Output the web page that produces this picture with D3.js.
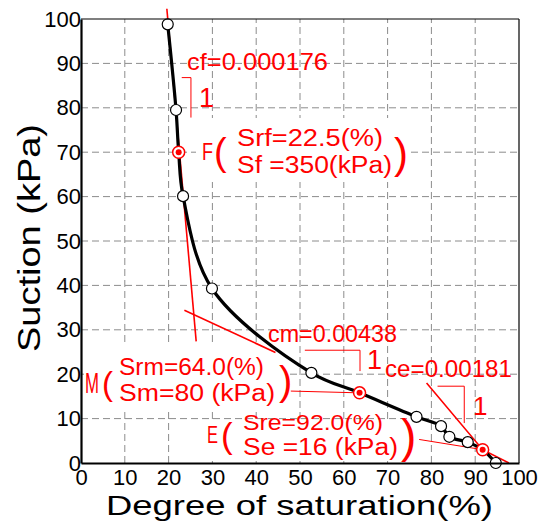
<!DOCTYPE html>
<html>
<head>
<meta charset="utf-8">
<script src="https://cdn.jsdelivr.net/npm/d3@7"></script>
<style>
body { margin: 0; background: #fff; }
svg { display: block; font-family: "Liberation Sans", Arial, sans-serif; }
</style>
</head>
<body>
<svg id="chart" width="547" height="524"></svg>
<script>
// measured points (degree of saturation %, suction kPa)
const saturation = [19.8, 21.7, 22.3, 23.3, 29.9, 52.6, 63.6, 76.6, 82.2, 84.1, 88.3, 91.7, 94.7];
const suction = [98.8, 79.5, 70.0, 60.1, 39.3, 20.3, 15.8, 10.4, 8.3, 5.9, 4.7, 3.0, 0.0];

// characteristic points F, M, E
const keyNames = ['F', 'M', 'E'];
const keySat = [22.3, 63.6, 91.7];
const keySuc = [70.0, 15.8, 3.0];

// tangent lines
const fTanSat = [19.6, 26.3];
const fTanSuc = [102.3, 27.4];
const mTanSat = [23.6, 44.4];
const mTanSuc = [34.4, 24.9];
const eTanSat = [78.9, 91.7, 97.7];
const eTanSuc = [18.0, 3.0, 0.0];

// slope triangles
const cfTriSat = [23.0, 25.1, 25.1];
const cfTriSuc = [86.8, 86.8, 77.8];
const cmTriSat = [51.1, 63.7, 63.7];
const cmTriSuc = [25.4, 25.4, 20.7];
const ceTriSat = [81.4, 87.5, 87.5];
const ceTriSuc = [17.3, 17.3, 9.0];

// leader lines from labels to points
const mLeadSat = [47.9, 63.6];
const mLeadSuc = [16.2, 15.8];
const eLeadSat = [77.2, 91.7];
const eLeadSuc = [5.3, 3.0];

const ticks = [0, 10, 20, 30, 40, 50, 60, 70, 80, 90, 100];
const gridTicks = [10, 20, 30, 40, 50, 60, 70, 80, 90];

const svg = d3.select('#chart');
const x = d3.scaleLinear().domain([0, 100]).range([81, 519]);
const y = d3.scaleLinear().domain([0, 100]).range([463, 19]);

// grid
svg.append('g').selectAll('line').data(gridTicks).join('line')
    .attr('x1', d => x(d)).attr('x2', d => x(d))
    .attr('y1', y(0)).attr('y2', y(100))
    .attr('stroke', '#8c8c8c').attr('stroke-dasharray', '7,4');
svg.append('g').selectAll('line').data(gridTicks).join('line')
    .attr('y1', d => y(d)).attr('y2', d => y(d))
    .attr('x1', x(0)).attr('x2', x(100))
    .attr('stroke', '#8c8c8c').attr('stroke-dasharray', '7,4');

// white label boxes
[[196, 118, 214, 64], [84, 345, 206, 67], [205, 421, 208, 40]].forEach(b => {
    svg.append('rect').attr('x', b[0]).attr('y', b[1])
        .attr('width', b[2]).attr('height', b[3]).attr('fill', '#fff');
});

function path(sats, sucs) {
    return d3.line().x(d => x(d[0])).y(d => y(d[1]))(d3.zip(sats, sucs));
}

// red tangent lines
[[fTanSat, fTanSuc], [mTanSat, mTanSuc], [eTanSat, eTanSuc]].forEach(p => {
    svg.append('path').attr('d', path(p[0], p[1]))
        .attr('fill', 'none').attr('stroke', 'red').attr('stroke-width', 1.6);
});
// triangles and leaders
[[cfTriSat, cfTriSuc], [cmTriSat, cmTriSuc], [ceTriSat, ceTriSuc],
 [mLeadSat, mLeadSuc], [eLeadSat, eLeadSuc]].forEach(p => {
    svg.append('path').attr('d', path(p[0], p[1]))
        .attr('fill', 'none').attr('stroke', 'red').attr('stroke-width', 1);
});

// black curve
svg.append('path')
    .attr('d', d3.line().x(d => x(d[0])).y(d => y(d[1]))
        .curve(d3.curveCatmullRom.alpha(0.5))(d3.zip(saturation, suction)))
    .attr('fill', 'none').attr('stroke', '#000').attr('stroke-width', 3.2);

// open points
const openPts = d3.zip(saturation, suction).filter(d => !keySat.includes(d[0]));
svg.append('g').selectAll('circle').data(openPts).join('circle')
    .attr('cx', d => x(d[0])).attr('cy', d => y(d[1])).attr('r', 5.5)
    .attr('fill', '#fff').attr('stroke', '#000').attr('stroke-width', 1.2);

// key points
const keyPts = d3.zip(keySat, keySuc);
svg.append('g').selectAll('circle').data(keyPts).join('circle')
    .attr('cx', d => x(d[0])).attr('cy', d => y(d[1])).attr('r', 6)
    .attr('fill', '#fff').attr('stroke', 'red').attr('stroke-width', 1.5);
svg.append('g').selectAll('circle').data(keyPts).join('circle')
    .attr('cx', d => x(d[0])).attr('cy', d => y(d[1])).attr('r', 3)
    .attr('fill', 'red');

// red texts
function label(txt, px, py, size, len) {
    const t = svg.append('text').attr('x', px).attr('y', py)
        .attr('fill', 'red').style('font-size', size + 'px').text(txt);
    if (len) t.attr('textLength', len).attr('lengthAdjust', 'spacingAndGlyphs');
    return t;
}
label('cf=0.000176', 187, 70, 24, 141);
label('1', 199, 107, 27);
label('cm=0.00438', 268, 342, 24, 129);
label('1', 367, 369, 27);
label('ce=0.00181', 385, 377, 24, 127);
label('1', 473, 415, 26);

label(keyNames[0], 202, 160, 24, 11);
label('(', 214, 165, 38);
label('Srf=22.5(%)', 237, 146, 23, 146);
label('Sf =350(kPa)', 237, 173, 23, 155);
label(')', 394, 168, 42);

label(keyNames[1], 85, 393, 30, 14);
label('(', 102, 395, 33);
label('Srm=64.0(%)', 119, 375, 23, 145);
label('Sm=80 (kPa)', 119, 401, 23, 156);
label(')', 279, 395, 40);

label(keyNames[2], 207, 443, 24, 11);
label('(', 221, 448, 35);
label('Sre=92.0(%)', 243, 430, 22, 140);
label('Se =16 (kPa)', 243, 455, 23, 155);
label(')', 401, 452, 46);

// frame
svg.append('line').attr('x1', x(0)).attr('x2', x(100)).attr('y1', y(100)).attr('y2', y(100))
    .attr('stroke', '#000').attr('stroke-width', 1.2);
svg.append('line').attr('x1', x(100)).attr('x2', x(100)).attr('y1', y(0)).attr('y2', y(100))
    .attr('stroke', '#000').attr('stroke-width', 1.2);

// axes
const xAxis = svg.append('g').attr('transform', `translate(0,${y(0)})`)
    .call(d3.axisBottom(x).tickValues(ticks).tickSize(0).tickPadding(6));
const yAxis = svg.append('g').attr('transform', `translate(${x(0)},0)`)
    .call(d3.axisLeft(y).tickValues(ticks).tickSize(0).tickPadding(0));
[xAxis, yAxis].forEach(a => {
    a.select('.domain').attr('stroke', '#000').attr('stroke-width', 2.2);
    a.selectAll('text').style('font-size', '22px')
        .style('font-family', '"Liberation Sans", Arial, sans-serif').attr('fill', '#000');
});

// axis titles
svg.append('text').attr('x', 106).attr('y', 515)
    .attr('textLength', 387).attr('lengthAdjust', 'spacingAndGlyphs')
    .style('font-size', '28px').text('Degree of saturation(%)');
svg.append('text').attr('transform', 'translate(40,352) rotate(-90)')
    .attr('textLength', 228).attr('lengthAdjust', 'spacingAndGlyphs')
    .style('font-size', '32px').text('Suction (kPa)');
</script>
</body>
</html>
